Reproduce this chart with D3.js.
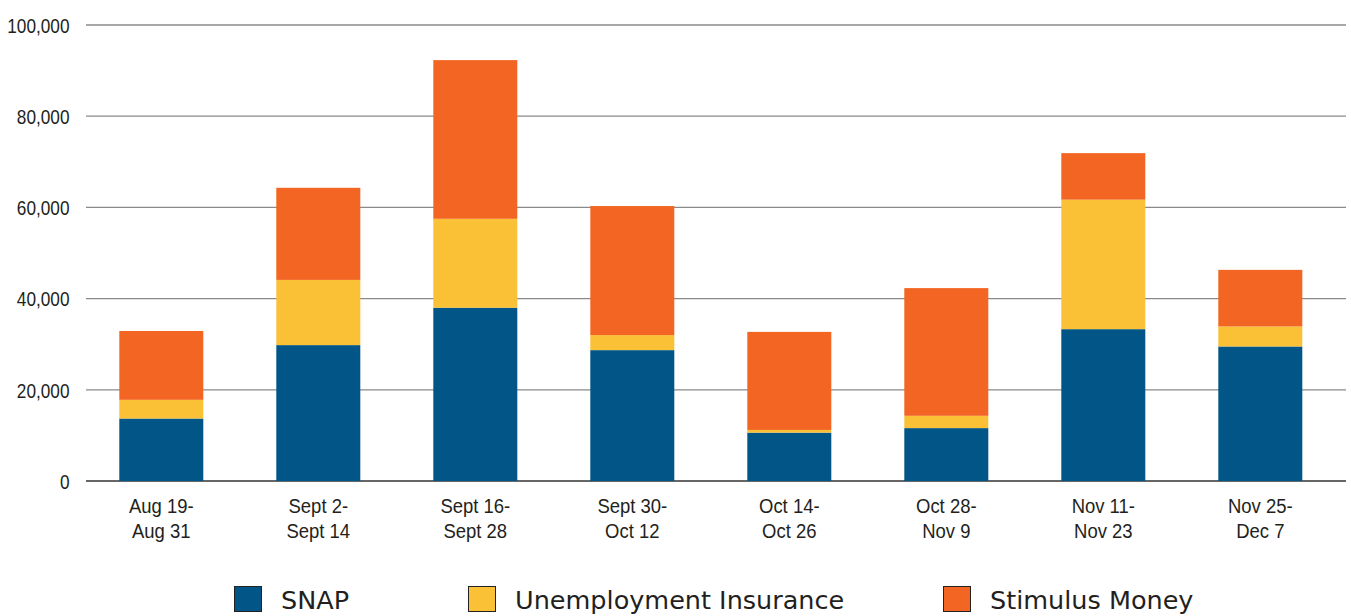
<!DOCTYPE html>
<html>
<head>
<meta charset="utf-8">
<script src="https://cdn.jsdelivr.net/npm/d3@7"></script>
<style>
  body { margin: 0; background: #fff; }
  svg { display: block; }
  text { font-family: "Liberation Sans", Arial, sans-serif; fill: #231f20; }
</style>
</head>
<body>
<svg id="chart" width="1351" height="616"></svg>
<script>
// Two-week periods (label lines)
const periods = [
  ["Aug 19-", "Aug 31"],
  ["Sept 2-", "Sept 14"],
  ["Sept 16-", "Sept 28"],
  ["Sept 30-", "Oct 12"],
  ["Oct 14-", "Oct 26"],
  ["Oct 28-", "Nov 9"],
  ["Nov 11-", "Nov 23"],
  ["Nov 25-", "Dec 7"]
];
const seriesNames = ["SNAP", "Unemployment Insurance", "Stimulus Money"];
const snap         = [13700, 29800, 38000, 28700, 10600, 11600, 33300, 29500];
const unemployment = [4100, 14300, 19500, 3300, 600, 2700, 28400, 4400];
const stimulus     = [15100, 20200, 34800, 28300, 21500, 28000, 10200, 12400];
const yTicks = [0, 20000, 40000, 60000, 80000, 100000];
const colors = ["#015687", "#fac036", "#f26522"];

const svg = d3.select("#chart");
const gridLeft = 86, gridRight = 1346;

const rows = periods.map((p, i) => ({
  key: i,
  SNAP: snap[i],
  "Unemployment Insurance": unemployment[i],
  "Stimulus Money": stimulus[i]
}));
const stacked = d3.stack().keys(seriesNames)(rows);

const x = d3.scaleBand()
  .domain(d3.range(periods.length))
  .range([82.8, 1338.8])
  .paddingInner(0.465)
  .paddingOuter(0.2325);

const y = d3.scaleLinear().domain([0, 100000]).range([481, 25]);

// Horizontal gridlines
svg.append("g")
  .selectAll("line")
  .data(yTicks)
  .join("line")
  .attr("x1", gridLeft)
  .attr("x2", gridRight)
  .attr("y1", d => y(d))
  .attr("y2", d => y(d))
  .attr("stroke", d => d === 0 ? "#333" : "#8a8a8a")
  .attr("stroke-width", d => d === 0 ? 1.6 : 1.3);

// Y axis labels (condensed)
const yAxis = d3.axisLeft(y).tickValues(yTicks).tickFormat(d3.format(",")).tickSize(0).tickPadding(0);
const gy = svg.append("g").attr("transform", "translate(69.5,0)").call(yAxis);
gy.select(".domain").remove();
gy.selectAll("text")
  .attr("font-size", 21)
  .attr("dy", "0.35em")
  .attr("fill", "#231f20")
  .style("font-family", "'Liberation Sans', Arial, sans-serif")
  .attr("transform", "scale(0.82,1)");

// Stacked bars
svg.append("g")
  .selectAll("g")
  .data(stacked)
  .join("g")
  .attr("fill", (d, i) => colors[i])
  .selectAll("rect")
  .data(d => d)
  .join("rect")
  .attr("x", d => x(d.data.key))
  .attr("width", x.bandwidth())
  .attr("y", d => y(d[1]))
  .attr("height", d => y(d[0]) - y(d[1]));

// Category labels (two lines, condensed)
const gx = svg.append("g");
periods.forEach((p, i) => {
  const cx = x(i) + x.bandwidth() / 2;
  const t = gx.append("g")
    .attr("transform", `translate(${cx},0) scale(0.88,1)`)
    .append("text")
    .attr("text-anchor", "middle")
    .attr("font-size", 21);
  t.append("tspan").attr("x", 0).attr("y", 513).text(p[0]);
  t.append("tspan").attr("x", 0).attr("y", 538).text(p[1]);
});

// Legend
const legendX = [234, 468, 943];
const lg = svg.append("g");
seriesNames.forEach((name, i) => {
  lg.append("rect")
    .attr("x", legendX[i] + 0.5)
    .attr("y", 586.5)
    .attr("width", 27)
    .attr("height", 25)
    .attr("fill", colors[i])
    .attr("stroke", "#222")
    .attr("stroke-width", 1);
  lg.append("text")
    .attr("x", legendX[i] + 47)
    .attr("y", 609)
    .attr("font-size", 25.5)
    .style("font-family", "'DejaVu Sans', sans-serif")
    .text(name);
});
</script>
</body>
</html>
